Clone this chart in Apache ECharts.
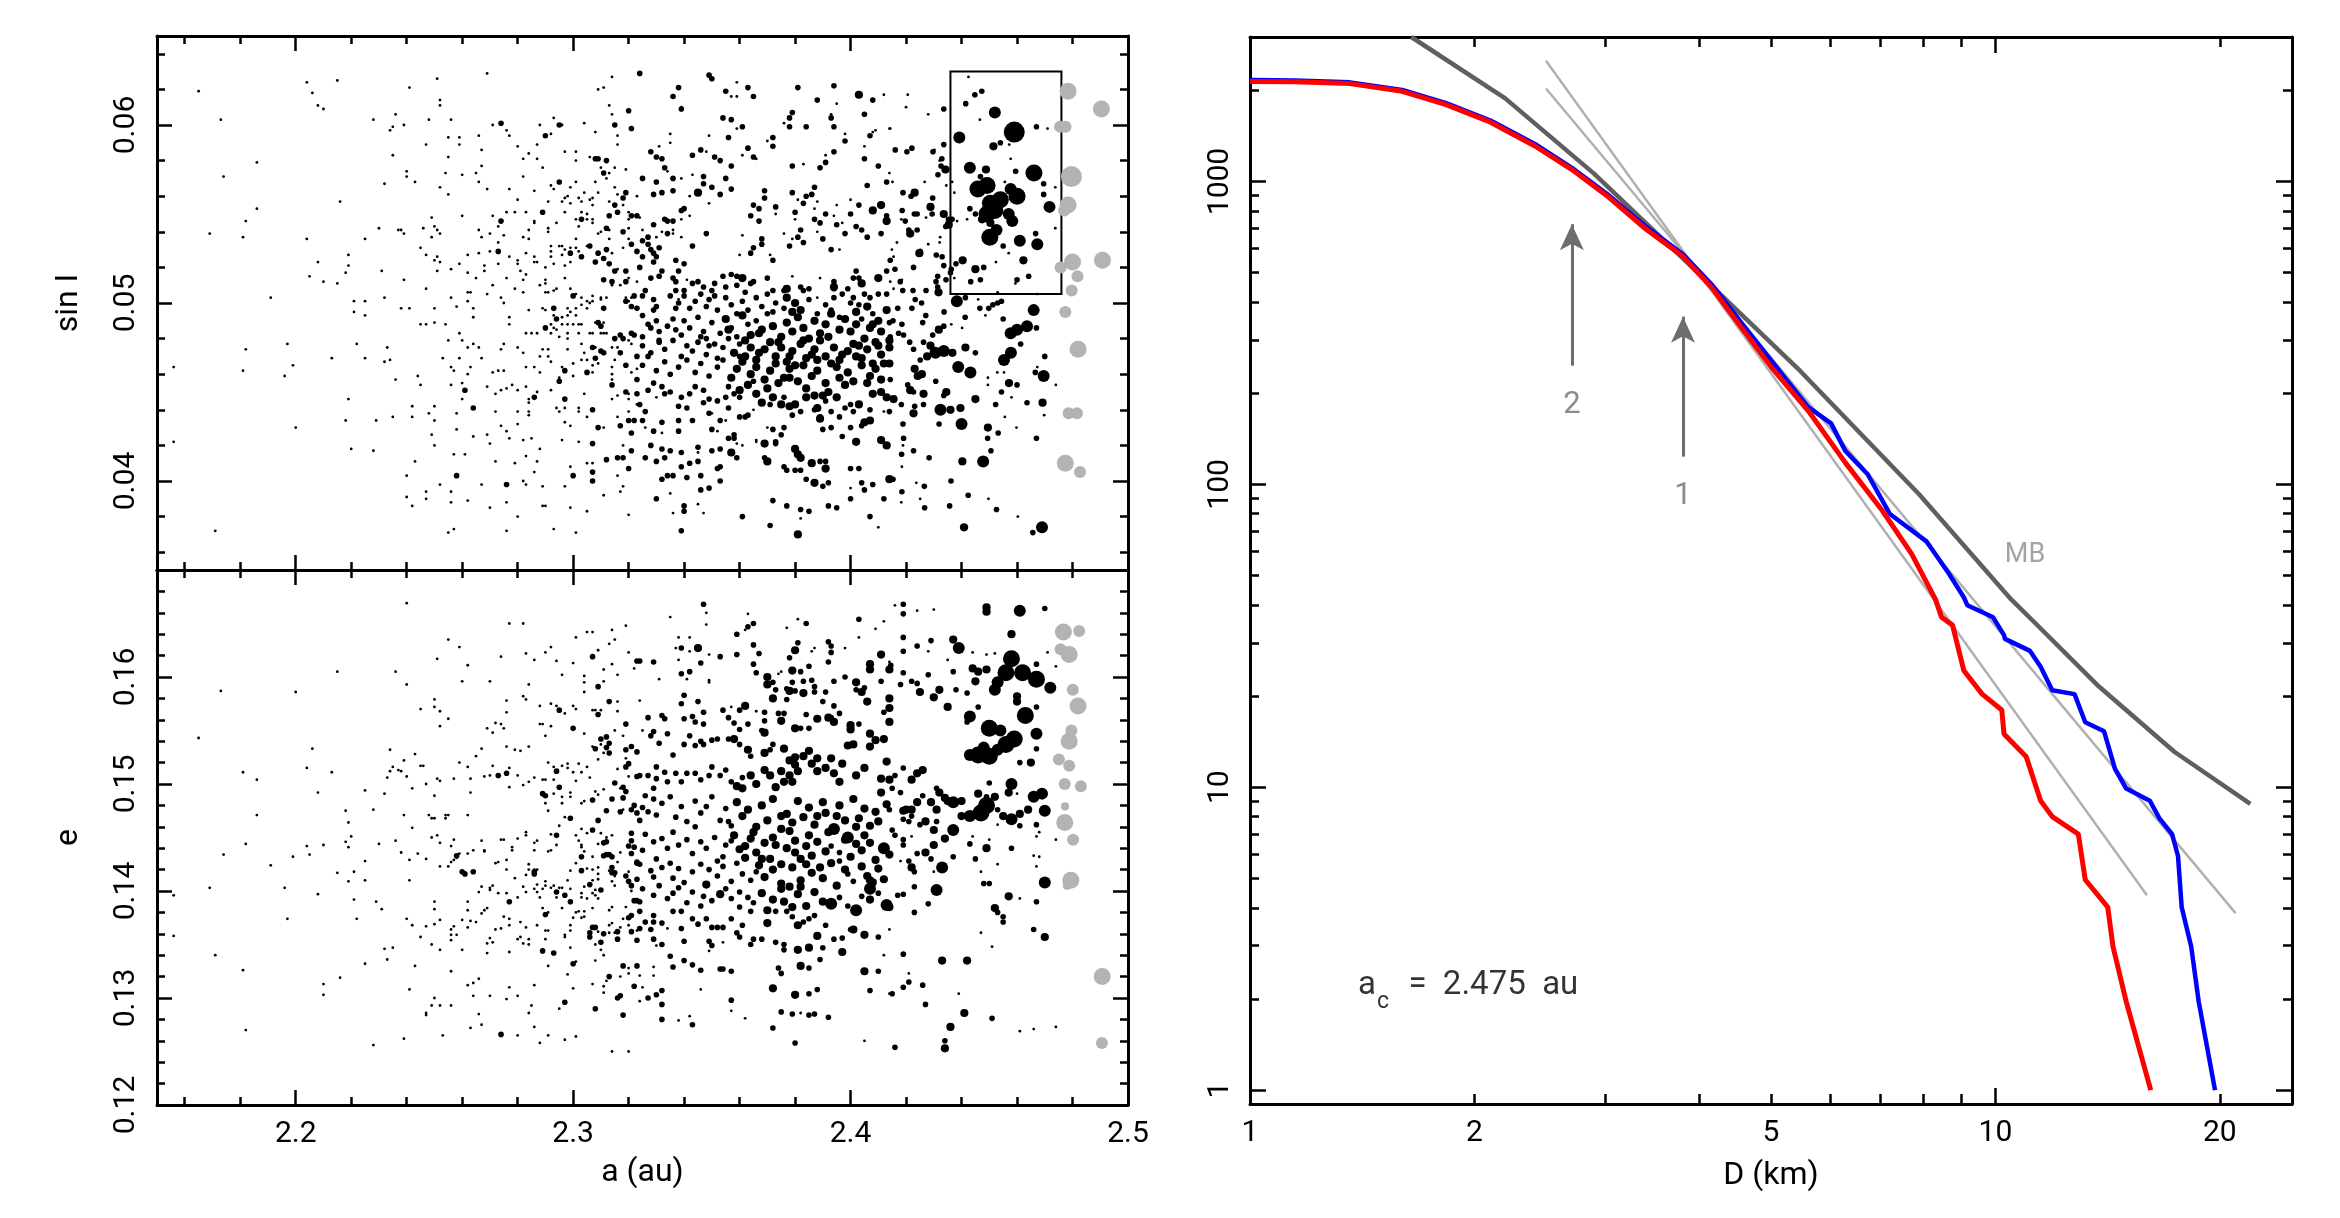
<!DOCTYPE html>
<html>
<head>
<meta charset="utf-8">
<script src="https://cdn.jsdelivr.net/npm/echarts@6/dist/echarts.min.js"></script>
<style>
html, body { margin: 0; background: #fff; }
#chart { width: 2340px; height: 1218px; }
</style>
</head>
<body>
<div id="chart"></div>
<script>
// ---- tick values ----
const aMajor = [2.2, 2.3, 2.4, 2.5]
const aMinor = [2.16, 2.18, 2.22, 2.24, 2.26, 2.28, 2.32, 2.34, 2.36, 2.38, 2.42, 2.44, 2.46, 2.48]
const sinMajor = [0.04, 0.05, 0.06]
const sinMinor = [0.036, 0.038, 0.042, 0.044, 0.046, 0.048, 0.052, 0.054, 0.056, 0.058, 0.062, 0.064]
const eMajor = [0.13, 0.14, 0.15, 0.16]
const eLabels = [0.12, 0.13, 0.14, 0.15, 0.16]
const eMinor = [0.122, 0.124, 0.126, 0.128, 0.132, 0.134, 0.136, 0.138, 0.142, 0.144, 0.146, 0.148,
  0.152, 0.154, 0.156, 0.158, 0.162, 0.164, 0.166, 0.168]
const dMajor = [1, 10]
const dMinor = [2, 3, 4, 5, 6, 7, 8, 9, 20]
const dLabels = [1, 2, 5, 10, 20]
const nMajor = [1, 10, 100, 1000]
const nMinor = [2, 3, 4, 5, 6, 7, 8, 9, 20, 30, 40, 50, 60, 70, 80, 90, 200, 300, 400, 500, 600, 700, 800, 900, 2000, 3000]

// ---- scatter points: [a (1e-3 au), sin I (1e-4), size bin] ----
const sinWest = [[2165,619,1],[2204,624,1],[2215,625,1],[2206,618,1],[2208,611,1],[2210,609,1],[2173,603,1],[2228,603,1],[2236,606,1],[2235,599,1],[2234,597,1],[2235,583,1],[2186,579,1],[2174,571,1],[2232,567,1],[2216,557,1],[2186,553,1],[2182,546,1],[2230,542,1],[2169,539,1],[2181,537,1],[2204,536,1],[2225,536,1],[2238,541,1],[2219,527,1],[2208,523,1],[2219,521,1],[2218,517,1],[2231,518,1],[2205,515,1],[2210,512,1],[2215,511,1],[2191,503,1],[2221,501,1],[2225,501,1],[2232,503,1],[2221,495,1],[2225,493,1],[2197,477,1],[2222,477,1],[2233,475,1],[2182,474,1],[2213,469,1],[2225,469,1],[2232,467,1],[2234,468,1],[2156,464,1],[2181,462,1],[2199,465,1],[2196,459,1],[2236,457,1],[2219,446,1],[2218,434,1],[2229,434,1],[2235,436,1],[2200,430,1],[2156,422,1],[2220,418,1],[2228,417,1],[2171,372,1]]

const sinMid = [[2269,629,1],[2324,629,1],[2251,626,1],[2314,627,1],[2241,621,1],[2311,621,1],[2309,620,1],[2252,614,1],[2252,611,1],[2313,611,1],[2320,608,2],[2314,606,1],[2293,604,1],[2248,603,1],[2256,603,1],[2274,601,2],[2239,600,1],[2271,600,1],[2288,600,1],[2295,600,2],[2296,600,1],[2304,601,1],[2315,600,2],[2321,598,2],[2276,597,1],[2308,596,1],[2277,594,1],[2290,594,2],[2292,595,1],[2266,594,1],[2255,593,1],[2259,593,1],[2316,594,1],[2247,589,1],[2259,589,1],[2280,588,1],[2287,589,1],[2316,589,1],[2267,586,1],[2297,585,1],[2301,585,1],[2284,584,1],[2255,582,1],[2282,581,1],[2287,581,1],[2301,580,1],[2306,582,1],[2308,581,2],[2309,581,2],[2312,580,2],[2267,577,1],[2289,576,1],[2310,576,1],[2315,576,1],[2319,575,1],[2311,573,2],[2313,573,1],[2240,574,1],[2240,571,1],[2254,573,1],[2260,572,1],[2265,573,1],[2282,571,1],[2312,570,1],[2243,568,1],[2266,568,1],[2295,568,2],[2301,568,1],[2252,565,1],[2269,564,1],[2277,564,1],[2286,563,1],[2292,566,1],[2293,564,1],[2299,565,1],[2308,568,1],[2255,561,1],[2298,560,1],[2304,562,1],[2309,562,1],[2315,565,1],[2316,561,1],[2319,562,2],[2297,559,1],[2302,559,1],[2307,559,1],[2306,558,1],[2318,559,2],[2323,560,1],[2280,558,1],[2291,557,1],[2296,557,1],[2299,556,1],[2303,557,1],[2307,555,1],[2313,557,1],[2315,555,2],[2318,555,1],[2316,551,2],[2320,551,1],[2321,549,2],[2323,549,2],[2276,551,1],[2279,551,1],[2283,551,1],[2289,551,2],[2297,551,1],[2303,551,1],[2305,550,1],[2313,549,2],[2260,549,1],[2271,549,1],[2303,547,2],[2305,547,1],[2307,545,1],[2307,547,1],[2274,546,2],[2286,546,1],[2286,545,1],[2294,545,1],[2301,547,1],[2320,547,1],[2249,548,1],[2250,543,1],[2273,543,1],[2291,542,1],[2291,540,1],[2302,543,1],[2312,542,2],[2320,542,1],[2237,541,1],[2239,539,1],[2246,542,1],[2251,541,1],[2252,539,1],[2266,541,1],[2270,539,1],[2284,541,1],[2313,541,1],[2309,539,1],[2310,540,1],[2318,540,2],[2320,536,1],[2249,537,1],[2267,537,1],[2282,537,1],[2284,536,1],[2313,536,1],[2275,538,1],[2306,532,2],[2305,532,1],[2295,532,1],[2296,532,1],[2299,531,1],[2301,531,1],[2301,536,1],[2292,532,1],[2321,533,2],[2323,529,2],[2318,531,1],[2273,534,1],[2245,531,1],[2299,528,2],[2303,526,2],[2309,528,2],[2312,530,2],[2314,528,1],[2302,529,1],[2292,529,1],[2297,530,1],[2292,526,1],[2296,527,1],[2311,525,2],[2273,529,2],[2270,529,1],[2266,528,1],[2262,527,1],[2247,527,1],[2251,526,1],[2250,524,1],[2252,523,1],[2277,526,1],[2280,524,1],[2286,526,1],[2283,528,1],[2308,523,2],[2313,522,2],[2315,518,2],[2316,519,1],[2319,518,2],[2299,523,1],[2286,523,1],[2287,523,1],[2273,522,1],[2259,522,1],[2268,521,1],[2280,522,1],[2290,520,1],[2293,522,1],[2297,521,1],[2281,518,1],[2276,514,1],[2256,519,1],[2251,518,1],[2262,517,1],[2268,518,1],[2239,513,1],[2247,508,1],[2265,514,1],[2282,513,1],[2283,516,1],[2297,514,1],[2311,513,2],[2314,512,2],[2314,510,1],[2317,510,1],[2319,512,2],[2320,514,1],[2323,512,1],[2290,513,1],[2290,511,1],[2288,510,1],[2291,506,1],[2293,507,1],[2294,508,1],[2299,508,1],[2269,505,1],[2271,510,1],[2274,503,1],[2275,500,1],[2279,508,1],[2256,503,1],[2262,506,1],[2263,506,1],[2262,501,1],[2282,506,1],[2290,506,1],[2300,504,2],[2301,505,1],[2303,503,1],[2305,501,1],[2307,504,1],[2307,501,1],[2310,502,1],[2310,503,1],[2312,503,1],[2319,503,1],[2320,501,1],[2321,503,1],[2322,504,2],[2319,501,2],[2321,498,2],[2323,497,2],[2311,497,2],[2306,500,1],[2301,497,1],[2303,499,1],[2298,497,1],[2299,495,1],[2293,497,2],[2289,497,1],[2284,496,1],[2250,497,1],[2238,497,1],[2241,497,1],[2258,498,1],[2264,497,1],[2264,492,1],[2277,492,1],[2277,488,1],[2290,496,1],[2294,491,2],[2293,493,1],[2296,492,1],[2298,493,1],[2301,493,1],[2305,497,1],[2309,489,2],[2310,487,2],[2308,489,1],[2311,489,1],[2302,488,1],[2303,488,1],[2298,488,1],[2300,488,1],[2296,488,1],[2292,488,1],[2293,486,1],[2292,483,1],[2290,486,2],[2285,483,1],[2287,483,1],[2245,488,1],[2247,488,1],[2250,489,1],[2254,488,1],[2259,483,1],[2255,479,1],[2260,479,1],[2262,475,1],[2264,477,1],[2266,475,1],[2275,477,1],[2274,474,1],[2280,475,1],[2282,472,1],[2283,483,1],[2289,474,1],[2291,474,1],[2288,470,1],[2291,470,1],[2292,467,1],[2294,485,1],[2295,481,1],[2298,483,1],[2298,480,1],[2302,483,1],[2306,483,1],[2307,483,1],[2310,483,1],[2311,483,1],[2312,483,1],[2315,480,2],[2317,482,2],[2318,480,2],[2320,479,1],[2321,483,2],[2322,482,2],[2321,477,1],[2303,477,1],[2304,472,1],[2307,475,2],[2308,475,1],[2310,473,2],[2311,472,2],[2314,475,1],[2316,475,1],[2317,472,2],[2298,474,1],[2308,469,2],[2305,468,1],[2303,468,1],[2307,465,1],[2305,461,2],[2307,461,1],[2309,466,1],[2314,464,1],[2315,468,1],[2319,465,2],[2323,470,2],[2323,463,1],[2323,457,2],[2321,461,1],[2314,460,1],[2314,457,1],[2297,462,2],[2296,464,1],[2300,466,1],[2300,459,1],[2295,458,1],[2295,456,2],[2288,461,1],[2286,464,1],[2283,464,1],[2271,461,1],[2273,462,1],[2275,462,1],[2263,464,1],[2253,469,1],[2259,469,1],[2256,464,1],[2257,462,1],[2262,460,1],[2267,469,1],[2244,459,1],[2245,454,1],[2256,454,1],[2260,455,1],[2261,451,2],[2269,453,1],[2272,449,1],[2274,451,1],[2276,452,1],[2278,454,1],[2280,451,1],[2283,453,1],[2287,450,1],[2286,447,2],[2284,446,1],[2284,444,1],[2292,451,1],[2297,446,2],[2304,449,1],[2314,454,2],[2314,446,1],[2316,448,1],[2319,450,2],[2320,449,1],[2323,449,2],[2320,446,1],[2323,443,1],[2260,446,1],[2264,441,2],[2258,438,1],[2242,442,1],[2242,436,1],[2248,438,1],[2250,442,1],[2250,434,1],[2272,439,1],[2280,439,1],[2284,439,1],[2284,437,1],[2294,441,1],[2295,439,1],[2297,441,1],[2302,441,1],[2302,439,1],[2307,440,2],[2305,436,1],[2297,433,1],[2299,431,1],[2309,430,2],[2311,430,1],[2317,431,2],[2316,436,1],[2320,439,1],[2320,434,2],[2322,434,2],[2321,427,2],[2249,426,1],[2250,420,1],[2258,429,1],[2264,425,1],[2269,426,1],[2270,421,1],[2274,431,1],[2276,428,1],[2277,424,1],[2280,432,1],[2282,423,1],[2285,424,1],[2288,418,1],[2296,423,1],[2302,422,1],[2307,421,2],[2318,420,1],[2321,417,2],[2312,412,2],[2316,413,2],[2318,413,2],[2320,407,2],[2243,411,1],[2257,415,1],[2261,415,1],[2272,411,1],[2279,410,1],[2283,414,1],[2287,411,1],[2286,405,1],[2299,408,1],[2305,410,1],[2307,410,1],[2307,405,2],[2300,403,2],[2307,400,2],[2316,403,1],[2240,403,1],[2258,403,2],[2252,398,1],[2267,398,1],[2276,398,2],[2282,400,1],[2283,398,1],[2289,397,1],[2297,397,1],[2318,397,1],[2317,394,1],[2311,392,1],[2247,394,1],[2247,390,1],[2256,394,1],[2240,391,1],[2242,386,1],[2256,388,1],[2262,389,1],[2270,385,1],[2276,388,1],[2289,386,1],[2290,386,1],[2299,385,1],[2305,383,1],[2320,381,1],[2280,380,1],[2255,371,1],[2257,373,1],[2276,372,1],[2293,373,1],[2301,371,1]]

const sinCore = [[2324,629,2],[2338,621,2],[2349,628,2],[2350,626,2],[2336,616,2],[2339,609,2],[2339,610,1],[2355,619,2],[2357,616,1],[2359,616,1],[2359,624,1],[2363,621,2],[2365,616,2],[2381,621,2],[2394,622,2],[2388,614,2],[2395,612,1],[2403,617,3],[2408,614,2],[2412,617,1],[2354,604,2],[2357,603,2],[2359,598,1],[2361,599,2],[2356,593,2],[2378,604,2],[2379,607,2],[2376,601,1],[2378,599,2],[2384,599,2],[2393,604,2],[2393,606,1],[2394,599,2],[2398,595,1],[2398,591,2],[2405,606,2],[2407,594,2],[2408,596,1],[2409,597,1],[2414,598,1],[2335,595,1],[2335,590,1],[2349,594,1],[2331,588,1],[2346,586,2],[2348,585,1],[2363,587,2],[2361,583,1],[2365,582,2],[2366,581,1],[2370,591,1],[2372,588,2],[2372,593,2],[2328,585,2],[2330,582,2],[2332,581,2],[2343,583,2],[2351,582,2],[2353,580,2],[2357,577,2],[2391,583,1],[2394,585,2],[2391,579,2],[2389,576,2],[2379,577,2],[2383,578,1],[2405,588,1],[2405,581,2],[2410,577,2],[2414,573,1],
[2325,570,2],[2330,568,2],[2333,576,2],[2336,570,2],[2334,574,1],[2339,570,1],[2336,563,2],[2329,561,2],[2332,562,2],[2343,572,1],[2347,571,2],[2347,567,2],[2349,556,1],[2350,565,2],[2353,561,2],[2355,570,2],[2357,564,2],[2345,562,3],[2342,560,1],[2340,553,2],[2339,552,2],[2342,549,1],[2333,547,2],[2334,546,2],[2336,546,2],[2336,541,1],[2339,547,1],[2329,544,2],[2324,548,1],[2348,539,2],[2343,532,2],[2369,563,2],[2369,559,2],[2373,554,2],[2373,550,1],[2365,555,2],[2367,553,2],[2364,549,2],[2367,546,2],[2379,562,2],[2381,558,1],[2384,560,2],[2387,565,2],[2386,561,2],[2383,556,2],[2380,551,2],[2380,547,1],[2387,553,1],[2388,557,1],[2391,550,2],[2395,555,1],[2394,549,1],[2389,545,2],[2387,547,2],[2395,544,2],[2400,550,2],[2397,545,1],[2403,555,2],[2400,558,1],[2406,566,2],[2413,568,2],[2408,552,3],[2411,555,3],[2413,546,3],[2413,549,2],[2404,541,2],[2406,537,2],[2411,539,2],[2402,543,2],[2382,541,2],[2379,536,1],[2376,539,1],[2388,540,1],[2390,536,2],[2393,530,2],[2398,539,2],[2396,530,1],[2383,534,2],[2381,537,2],[2378,532,2],[2368,536,2],[2368,533,2],[2361,538,1],[2364,528,2],[2365,531,2],[2360,527,1],[2371,527,1],[2372,524,2],
[2325,541,1],[2327,537,2],[2325,535,2],[2330,537,1],[2332,540,1],[2334,539,2],[2336,539,1],[2339,537,1],[2327,533,2],[2328,530,2],[2329,528,2],[2331,531,2],[2330,526,2],[2329,523,2],[2325,526,2],[2324,520,2],[2337,524,2],[2340,522,2],[2338,518,2],[2332,518,2],[2331,515,2],[2328,514,2],[2336,514,2],[2337,512,2],[2341,513,1],[2343,511,2],[2345,512,2],[2347,509,2],[2340,507,2],[2337,507,2],[2357,516,2],[2359,515,2],[2361,514,3],[2354,515,2],[2351,511,2],[2355,509,2],[2350,507,2],[2351,504,2],[2359,510,2],[2362,506,2],[2364,511,2],[2365,512,2],[2370,514,2],[2372,507,2],[2376,507,2],[2377,508,3],[2379,515,1],[2382,509,2],[2383,507,2],[2385,508,2],[2389,514,1],[2394,512,2],[2394,508,2],[2388,503,1],[2397,505,2],[2399,508,2],[2401,514,2],[2402,518,2],[2403,514,2],[2404,511,3],[2405,505,2],[2401,503,2],[2403,499,2],[2407,503,2],[2410,514,3],[2410,505,2],[2413,518,2],[2413,505,2],[2394,509,3],[2326,507,2],[2325,504,2],[2329,502,2],[2330,498,2],[2329,496,2],[2335,504,2],[2337,497,2],[2338,500,2],[2338,502,1],[2340,504,2],[2342,497,2],[2344,501,2],
[2346,505,2],[2348,498,2],[2349,502,2],[2352,496,2],[2355,503,2],[2357,499,2],[2359,494,2],[2361,501,2],[2363,496,2],[2366,503,2],[2368,498,2],[2370,505,2],[2372,495,2],[2373,500,2],[2376,497,2],[2377,503,3],[2379,495,3],[2380,500,3],[2382,496,3],[2385,502,2],[2388,494,2],[2391,499,2],[2393,496,2],[2394,503,2],[2396,492,2],[2400,500,2],[2402,495,3],[2404,491,2],[2406,498,3],[2408,494,2],[2410,490,3],[2413,496,3],[2414,489,2],
[2325,493,2],[2327,488,2],[2330,490,2],[2331,484,2],[2325,481,2],[2328,486,2],[2331,479,2],[2334,487,2],[2336,491,2],[2337,485,2],[2339,482,2],[2340,490,2],[2342,486,2],[2345,492,2],[2347,484,2],[2348,480,2],[2350,489,2],[2353,483,2],[2355,491,3],[2357,486,2],[2359,481,2],[2361,493,3],[2363,488,2],[2364,482,3],[2366,490,2],[2368,485,3],[2370,494,2],[2372,487,3],[2375,481,3],[2377,489,3],[2379,484,3],[2381,492,3],[2383,486,3],[2385,480,3],[2387,490,3],[2389,483,3],[2391,488,3],[2393,494,3],[2396,485,3],[2398,491,3],[2400,484,3],[2402,488,3],[2405,480,3],[2407,486,3],[2409,478,3],[2411,484,3],[2414,479,3],
[2325,476,2],[2328,472,2],[2331,478,2],[2333,474,2],[2336,479,2],[2339,470,2],[2341,476,2],[2343,473,2],[2345,478,2],[2348,471,2],[2349,476,2],[2352,469,2],[2354,475,2],[2356,480,2],[2358,472,3],[2360,477,2],[2362,470,3],[2364,475,3],[2366,468,3],[2369,474,3],[2371,478,3],[2373,470,3],[2375,475,3],[2377,467,3],[2379,473,3],[2382,477,3],[2384,469,3],[2387,474,3],[2389,479,3],[2391,470,3],[2394,475,3],[2396,468,3],[2399,473,3],[2401,477,3],[2404,469,3],[2406,474,3],[2408,466,3],[2411,471,3],[2414,475,3],
[2325,465,2],[2327,470,2],[2330,462,2],[2333,467,2],[2335,460,2],[2338,464,2],[2341,468,2],[2344,461,2],[2346,466,2],[2349,459,2],[2352,464,2],[2354,468,2],[2357,458,3],[2359,463,3],[2361,467,3],[2364,460,3],[2366,464,3],[2369,457,3],[2371,462,3],[2373,466,3],[2376,458,3],[2378,463,3],[2381,456,3],[2383,465,3],[2386,459,3],[2388,462,3],[2391,455,3],[2393,466,3],[2396,458,3],[2399,461,3],[2401,456,3],[2404,465,3],[2407,459,3],[2409,463,3],[2411,457,3],[2414,466,3],
[2346,481,2],[2351,477,2],[2356,485,3],[2362,479,3],[2367,483,3],[2374,478,3],[2378,470,3],[2383,479,3],[2388,468,3],[2392,481,3],[2397,471,3],[2403,476,3],[2408,488,3],[2412,466,3],[2360,470,2],[2367,472,3],[2380,465,3],[2386,471,3],[2395,464,3],[2402,470,3],[2410,476,3],[2374,455,3],[2384,452,3],[2392,450,3],[2370,452,3],[2398,454,3],[2406,455,3],[2365,456,2],[2378,458,3],
[2324,443,2],[2327,451,2],[2329,455,2],[2332,453,2],[2333,449,2],[2335,450,2],[2339,447,2],[2341,441,2],[2338,442,2],[2342,449,2],[2344,453,2],[2347,451,2],[2347,444,2],[2349,446,2],[2350,438,1],[2352,445,2],[2355,447,2],[2356,441,2],[2358,449,2],[2360,447,2],[2360,436,2],[2362,436,2],[2363,437,2],[2365,440,1],[2356,453,2],[2360,451,3],[2363,454,3],[2366,449,3],[2368,444,3],[2371,443,2],[2372,447,3],[2375,443,3],[2376,447,2],[2378,442,3],[2380,443,3],[2382,439,2],[2384,447,3],[2387,448,3],[2388,441,3],[2390,448,3],[2391,445,2],[2393,439,2],[2395,447,3],[2398,441,2],[2400,443,2],[2401,439,2],[2403,443,3],[2405,433,3],[2407,434,3],[2408,449,3],[2411,450,3],[2413,447,3],[2407,440,2],[2412,439,1],[2414,439,2],[2396,436,2],[2393,430,2],[2389,436,2],[2390,429,2],[2387,440,2],[2389,435,3],[2379,437,2],[2376,430,2],[2375,426,2],[2372,429,2],[2373,422,2],[2370,430,1],[2366,423,1],[2404,431,2],[2402,422,3],[2397,425,2],[2400,430,2],[2411,423,3],[2413,420,3],[2326,439,2],[2330,447,1],[2325,434,2],[2326,430,1],[2329,428,2],[2332,427,1],[2332,433,2],[2338,434,2],[2338,428,2],[2343,434,2],[2349,438,2],[2353,434,2],[2355,434,1],[2350,429,2],[2352,428,1],[2356,424,2],[2358,426,2],[2359,421,1],[2361,420,1],[2366,422,1],
[2328,420,2],[2326,413,2],[2332,418,2],[2335,417,2],[2333,413,2],[2339,416,2],[2345,419,2],[2345,416,1],[2342,410,2],[2339,408,2],[2345,411,2],[2350,417,2],[2353,418,2],[2353,408,2],[2352,407,2],[2357,416,3],[2358,424,2],[2359,413,2],[2369,421,3],[2369,413,2],[2370,411,3],[2373,421,2],[2380,418,3],[2381,415,3],[2382,413,3],[2386,410,3],[2389,411,2],[2391,411,2],[2391,407,3],[2376,408,2],[2377,406,2],[2380,406,2],[2382,406,2],[2384,401,2],[2387,399,3],[2390,397,2],[2392,399,2],[2400,407,2],[2403,407,2],[2404,399,2],[2405,395,2],[2400,396,1],[2400,390,2],[2408,398,2],[2412,390,2],[2414,401,3],[2330,411,2],[2332,401,2],[2334,403,2],[2336,403,2],[2341,402,2],[2346,403,2],[2346,395,2],[2349,396,2],[2353,400,2],[2330,390,2],[2335,393,1],[2340,386,2],[2340,383,2],[2336,382,1],[2345,387,1],[2347,382,1],[2361,380,2],[2372,389,2],[2371,375,2],[2377,386,2],[2382,384,2],[2385,383,2],[2382,379,1],[2392,386,2],[2395,385,2],[2381,370,3],[2339,372,2],[2407,380,2],[2410,374,1]]

const sinEast = [[2442.5,627,1],[2444.8,617,2],[2447.3,619,2],[2452,607,4],[2459,596,6],[2467,599,2],[2471,598,1],[2439.2,593,4],[2446.6,603,1],[2441.5,612,2],[2433.6,609,2],[2428,606,1],[2420.6,617,1],[2420,610,1],[2451.5,588,3],[2454,590,2],[2457.2,589,1],[2443,576,4],[2448.8,575,3],[2446.8,571,2],[2445.9,564,5],[2449.2,566,5],[2459.5,574,2],[2466.1,573,5],[2469.6,567,2],[2473.8,565,1],[2455.6,568,1],[2457.7,581,1],[2450.4,556,5],[2454,558,5],[2460,560,5],[2457.7,564,4],[2449.2,550,5],[2452,552,5],[2457,550,4],[2458.3,546,4],[2447.4,547,3],[2450.4,545,3],[2443,553,2],[2445,550,2],[2471.7,554,4],[2469.6,561,2],[2473.8,542,1],[2450.2,537,5],[2452.6,541,4],[2461,535,4],[2467.3,533,4],[2466.7,539,2],[2455,532,2],[2457,528,1],[2452.4,523,1],[2462.3,524,3],[2440.4,524,3],[2438,522,2],[2436.3,519,2],[2445,519,3],[2448,520,2],[2443.3,512,2],[2446.8,513,2],[2437.4,514,1],[2464.2,515,2],[2460,513,2],[2459.4,511,1],[2453,506,1],[2467.3,505,1],[2433.6,521,2],[2433,526,2],[2436,517,2],[2438.3,501,4],[2441.4,503,2],[2446,502,1],[2446.6,497,2],[2448.6,493,1],[2449.8,497,2],[2451.3,499,2],[2453,500,2],[2454.4,501,2],[2455,491,2],[2466,496,4],[2463.6,487,4],[2460,485,4],[2457.7,483,4],[2467,486,2],[2461.3,477,2],[2457.8,472,4],[2455.3,468,4],[2470,470,2],[2467.3,464,1],[2466.6,461,2],[2469.6,459,4],[2474,454,1],[2452.9,461,1],[2455.3,461,1],[2457.1,455,3],[2460,454,2],[2449.5,458,1],[2449.5,454,1],[2454.4,450,2],[2458,447,1],[2452.3,443,2],[2463.6,444,2],[2469.2,444,3],[2469.8,437,1],[2455.6,436,1],[2459.8,430,1],[2467,424,2],[2453.2,427,2],[2449.5,430,3],[2449.4,424,2],[2450.6,417,2],[2447.8,411,4],[2440.3,411,3],[2436.2,400,2],[2442.4,392,2],[2449.7,390,1],[2452.6,384,2],[2460.3,380,1],[2469,374,4],[2465.7,371,2],[2440.9,374,3],[2435.7,386,2],[2440,432,4],[2445,446,3],[2438.8,464,4],[2443.2,461,4],[2441.4,475,3],[2445,472,2],[2439.6,441,3],[2432.4,440,4],[2436,440,3],[2431.9,432,2],[2428.3,413,2],[2430.7,456,2],[2433.6,448,2],[2434.5,450,3],[2436.7,472,3],[2433.6,473,4],[2430.6,472,4],[2428.8,476,3],[2426.3,478,2],[2427.6,470,3],[2425.1,468,2],[2423.1,463,3],[2425.7,460,3],[2426.3,449,3],[2422.7,450,2],[2420.6,454,2],[2424.2,459,3],[2421.5,451,3],[2423.1,442,2],[2426.3,443,2],[2415.5,446,3],[2414.3,457,2],[2418.3,443,2],[2418.9,432,2],[2422.7,438,3],[2419.1,424,2],[2418.9,420,1],[2418.4,415,2],[2418.5,408,1],[2422.7,417,2],[2418.5,394,2],[2418.3,388,1],[2415.3,401,2],[2423.7,399,1],[2426.6,397,2],[2425.1,390,1],[2426.7,385,2],[2421.3,478,2],[2422.7,474,2],[2419.1,482,2],[2414.3,481,2],[2417.3,483,2],[2418.5,488,2],[2415.3,490,2],[2417,497,2],[2423.3,502,2],[2422.1,497,2],[2427.1,493,2],[2426,489,2],[2418.8,507,2],[2422.5,507,2],[2417.9,512,2],[2422.7,520,2],[2425.1,529,2],[2416,519,2],[2414.3,524,2],[2427.2,507,2],[2431.4,509,2],[2430.8,512,2],[2431.7,506,3],[2431.4,515,2],[2434.4,513,2],[2433.7,495,2],[2433.6,487,2],[2431.8,485,3],[2429.6,482,2],[2436.3,488,1],[2440.2,486,1],[2441.3,492,2],[2425.6,500,2],[2415.5,508,1],[2418.5,513,1],[2416.7,534,1],[2414.9,530,1],[2418.3,547,1],[2418.6,552,2],[2419.7,546,2],[2421,541,2],[2421.8,560,2],[2423.1,562,3],[2418.9,562,2],[2423,550,2],[2424,550,2],[2421.5,539,3],[2424,541,2],[2424.8,528,3],[2422.5,520,1],[2427.2,548,1],[2428.8,554,3],[2429.6,559,2],[2429.4,550,2],[2432.3,537,1],[2432.1,534,1],[2430.9,527,2],[2433.6,550,3],[2435.4,544,3],[2434.3,543,2],[2436.6,547,2],[2438.4,546,1],[2442,547,1],[2435.3,547,2],[2431.5,572,2],[2432.6,577,2],[2434.2,575,3],[2432.9,581,2],[2429.7,585,2],[2433.6,589,2],[2430.2,586,1],[2432.1,580,1],[2422.1,587,2],[2420.3,585,2],[2416.1,586,2],[2414.3,598,1],[2426.7,568,1],[2415.1,568,1],[2418.5,562,1],[2436.6,568,1],[2437.4,562,1],[2434.5,566,1],[2415.5,526,1],[2414.3,512,1],[2428,533,1]]

const sinGray = [[2478.4,619,5],[2490.4,609,5],[2475.5,599,4],[2477.5,599,4],[2479.6,571,6],[2478.4,555,5],[2477,552,4],[2475.7,520,4],[2480,523,5],[2481.8,515,4],[2490.8,524,5],[2479.7,507,4],[2477.4,495,4],[2482,474,5],[2478.6,438,4],[2481.6,438,4],[2477.4,410,5],[2482.7,405,4]]

// ---- scatter points: [a (1e-3 au), e (1e-4), size bin] ----
const eWest = [[2215,1605,1],[2236,1605,1],[2173,1587,1],[2200,1586,1],[2165,1543,1],[2206,1533,1],[2234,1532,1],[2204,1515,1],[2213,1511,1],[2235,1516,1],[2234,1512,1],[2238,1512,1],[2233,1506,1],[2181,1511,1],[2186,1504,1],[2208,1492,1],[2225,1494,1],[2232,1491,1],[2218,1475,1],[2228,1476,1],[2186,1471,1],[2219,1464,1],[2220,1451,1],[2182,1444,1],[2204,1442,1],[2210,1443,1],[2218,1446,1],[2230,1444,1],[2236,1447,1],[2219,1441,1],[2174,1434,1],[2205,1434,1],[2199,1432,1],[2225,1428,1],[2191,1424,1],[2215,1417,1],[2221,1418,1],[2219,1409,1],[2225,1410,1],[2169,1403,1],[2196,1403,1],[2208,1397,1],[2156,1396,1],[2221,1392,1],[2229,1390,1],[2231,1383,1],[2197,1374,1],[2222,1374,1],[2156,1358,1],[2171,1340,1],[2232,1346,1],[2235,1347,1],[2233,1336,1],[2181,1326,1],[2225,1332,1],[2216,1319,1],[2210,1313,1],[2210,1303,1],[2182,1270,1],[2228,1256,1]]

const eMid = [[2240,1669,1],[2277,1650,1],[2282,1650,1],[2255,1635,1],[2259,1628,1],[2301,1637,1],[2305,1642,1],[2307,1642,1],[2314,1644,1],[2319,1648,1],[2313,1631,1],[2315,1635,1],[2292,1628,1],[2290,1623,1],[2283,1622,1],[2307,1619,2],[2309,1625,1],[2251,1617,1],[2262,1611,1],[2274,1619,1],[2286,1616,1],[2294,1615,1],[2300,1613,1],[2320,1623,1],[2323,1615,2],[2311,1607,1],[2314,1612,1],[2322,1608,1],[2260,1596,1],[2270,1596,1],[2296,1602,1],[2240,1593,1],[2284,1593,1],[2304,1601,1],[2304,1595,1],[2309,1591,2],[2311,1596,1],[2316,1602,1],[2304,1586,1],[2250,1579,1],[2250,1572,1],[2252,1568,1],[2255,1561,1],[2245,1570,1],[2276,1578,1],[2276,1567,1],[2282,1582,1],[2283,1579,1],[2288,1573,1],[2292,1575,1],[2295,1569,2],[2294,1573,1],[2297,1566,1],[2300,1573,1],[2301,1570,1],[2307,1569,1],[2308,1569,1],[2309,1565,2],[2310,1569,1],[2313,1577,2],[2316,1577,1],[2316,1568,1],[2252,1554,1],[2269,1552,1],[2271,1548,1],[2272,1557,1],[2274,1556,1],[2275,1552,1],[2288,1556,1],[2289,1556,1],[2292,1554,1],[2290,1545,1],[2300,1552,2],[2304,1547,1],[2310,1542,2],[2312,1544,2],[2315,1550,1],[2319,1556,2],[2318,1545,1],[2284,1535,1],[2276,1535,1],[2279,1532,1],[2281,1531,1],[2265,1526,1],[2267,1533,1],[2239,1522,1],[2243,1528,1],[2237,1513,1],[2240,1507,1],[2242,1496,1],[2245,1517,1],[2246,1517,1],[2250,1489,1],[2247,1500,1],[2251,1505,1],[2252,1503,1],[2257,1505,1],[2259,1520,1],[2262,1516,1],[2263,1492,1],[2263,1505,1],[2268,1507,1],[2270,1508,1],[2271,1517,1],[2273,1508,2],[2276,1510,2],[2277,1515,1],[2277,1497,1],[2280,1508,1],[2282,1499,1],[2284,1502,1],[2286,1506,1],[2289,1504,1],[2290,1504,1],[2293,1504,1],[2291,1520,1],[2293,1516,1],[2294,1512,2],[2296,1517,1],[2298,1515,1],[2298,1519,1],[2300,1511,1],[2301,1503,1],[2302,1519,1],[2303,1511,1],[2305,1516,1],[2306,1506,1],[2307,1535,1],[2308,1533,2],[2310,1537,1],[2309,1523,1],[2311,1529,1],[2312,1534,2],[2313,1529,2],[2313,1538,2],[2316,1514,1],[2319,1532,2],[2319,1516,2],[2320,1519,2],[2319,1524,1],[2321,1535,2],[2323,1530,2],[2320,1507,1],[2323,1507,2],[2289,1491,2],[2290,1489,2],[2295,1497,2],[2293,1491,1],[2296,1488,1],[2299,1492,1],[2299,1488,1],[2290,1482,1],[2291,1475,1],[2296,1482,1],[2303,1482,1],[2304,1484,1],[2307,1485,2],[2311,1495,1],[2308,1493,1],[2309,1490,1],[2314,1486,2],[2315,1501,2],[2317,1496,1],[2318,1497,2],[2319,1493,2],[2318,1487,2],[2321,1476,2],[2323,1473,2],[2322,1480,2],[2318,1476,1],[2317,1473,1],[2317,1474,2],[2312,1475,2],[2309,1466,2],[2307,1457,2],[2312,1450,1],[2310,1454,1],[2314,1452,1],[2312,1446,2],[2311,1445,2],[2303,1458,1],[2305,1454,1],[2299,1468,2],[2297,1469,1],[2294,1452,2],[2295,1461,1],[2292,1453,1],[2294,1443,1],[2291,1437,1],[2292,1438,1],[2303,1443,1],[2301,1452,1],[2302,1447,1],[2303,1432,2],[2303,1441,1],[2304,1437,1],[2307,1432,1],[2309,1444,1],[2312,1434,2],[2313,1434,2],[2311,1433,2],[2314,1432,2],[2316,1427,1],[2317,1436,1],[2320,1442,2],[2321,1435,2],[2322,1441,2],[2323,1427,2],[2321,1447,2],[2321,1454,2],[2283,1455,1],[2283,1452,1],[2286,1445,1],[2287,1447,1],[2286,1438,1],[2284,1425,1],[2284,1420,1],[2286,1420,1],[2287,1420,1],[2286,1416,2],[2286,1418,2],[2283,1415,1],[2282,1404,1],[2278,1441,1],[2278,1438,1],[2274,1448,1],[2275,1448,1],[2280,1449,1],[2276,1429,1],[2279,1412,1],[2276,1420,1],[2273,1427,1],[2272,1426,1],[2268,1438,1],[2267,1447,1],[2268,1437,1],[2264,1438,1],[2262,1435,1],[2258,1433,2],[2259,1435,1],[2258,1431,1],[2257,1429,1],[2256,1427,1],[2255,1423,1],[2252,1423,1],[2260,1418,2],[2264,1418,2],[2261,1416,2],[2257,1448,1],[2256,1442,1],[2252,1445,1],[2249,1450,1],[2251,1452,1],[2247,1430,1],[2244,1435,1],[2241,1429,1],[2238,1436,1],[2241,1410,1],[2242,1459,1],[2239,1471,1],[2248,1471,1],[2249,1468,1],[2250,1468,1],[2254,1471,1],[2255,1471,1],[2254,1468,1],[2262,1471,1],[2266,1399,1],[2267,1404,1],[2270,1403,1],[2271,1405,1],[2270,1401,1],[2273,1398,1],[2276,1398,1],[2277,1390,2],[2280,1394,1],[2283,1399,1],[2287,1399,1],[2289,1402,1],[2286,1402,1],[2288,1394,1],[2287,1406,1],[2290,1409,1],[2290,1405,1],[2289,1384,1],[2290,1378,2],[2291,1380,1],[2293,1405,1],[2292,1403,1],[2294,1399,2],[2294,1394,1],[2295,1403,1],[2296,1403,1],[2299,1402,1],[2299,1391,1],[2297,1396,2],[2299,1390,2],[2296,1384,1],[2298,1410,1],[2299,1419,1],[2301,1426,1],[2303,1419,2],[2305,1421,1],[2307,1420,1],[2307,1410,1],[2306,1406,2],[2304,1404,1],[2303,1398,1],[2303,1394,1],[2307,1398,1],[2305,1393,1],[2308,1396,1],[2309,1393,1],[2310,1401,2],[2308,1401,1],[2309,1411,1],[2309,1416,1],[2309,1422,1],[2307,1384,1],[2304,1381,1],[2301,1380,1],[2302,1381,1],[2300,1375,1],[2303,1375,1],[2299,1368,1],[2299,1363,1],[2297,1359,1],[2297,1357,1],[2299,1347,1],[2304,1376,1],[2306,1357,2],[2306,1361,2],[2307,1366,2],[2308,1366,2],[2309,1362,1],[2311,1360,2],[2310,1352,2],[2308,1350,1],[2310,1345,1],[2311,1340,1],[2314,1370,1],[2313,1361,1],[2316,1355,2],[2316,1362,2],[2315,1361,1],[2317,1366,1],[2318,1374,1],[2320,1375,2],[2321,1377,2],[2320,1368,1],[2321,1362,2],[2323,1354,2],[2323,1363,1],[2319,1385,1],[2320,1409,2],[2320,1418,1],[2319,1414,2],[2321,1405,2],[2321,1400,1],[2322,1391,2],[2323,1391,2],[2323,1411,2],[2323,1426,2],[2315,1405,1],[2314,1409,1],[2315,1414,1],[2314,1417,2],[2314,1422,2],[2315,1417,2],[2313,1419,1],[2313,1382,1],[2314,1385,1],[2313,1368,1],[2291,1363,1],[2290,1363,1],[2290,1355,1],[2289,1344,2],[2293,1342,2],[2291,1330,1],[2283,1366,1],[2284,1355,1],[2280,1355,1],[2281,1357,1],[2282,1351,1],[2284,1350,1],[2287,1368,1],[2281,1371,1],[2277,1368,1],[2277,1374,1],[2275,1376,1],[2274,1365,1],[2272,1364,1],[2270,1356,1],[2269,1351,1],[2271,1352,1],[2277,1343,1],[2268,1382,1],[2269,1384,1],[2267,1379,1],[2265,1371,1],[2263,1372,1],[2262,1390,1],[2262,1382,1],[2260,1373,1],[2262,1366,1],[2258,1359,1],[2256,1359,1],[2256,1354,1],[2256,1364,1],[2257,1367,1],[2252,1373,1],[2250,1369,1],[2250,1390,1],[2250,1383,1],[2249,1350,1],[2252,1345,1],[2247,1367,1],[2245,1357,1],[2240,1374,1],[2242,1368,1],[2260,1345,1],[2269,1342,1],[2256,1325,1],[2243,1330,1],[2241,1308,1],[2262,1312,1],[2264,1314,1],[2266,1318,1],[2264,1302,1],[2270,1302,1],[2276,1299,1],[2277,1310,1],[2280,1302,1],[2286,1312,1],[2285,1293,1],[2284,1286,1],[2286,1273,1],[2280,1265,1],[2274,1266,2],[2263,1272,1],[2266,1285,1],[2267,1275,1],[2253,1265,1],[2256,1293,1],[2252,1293,1],[2250,1300,1],[2249,1293,1],[2247,1286,1],[2247,1284,1],[2239,1262,1],[2288,1258,1],[2291,1265,1],[2297,1261,1],[2301,1264,1],[2297,1296,2],[2295,1290,1],[2300,1309,1],[2300,1332,2],[2301,1334,1],[2298,1322,1],[2307,1313,1],[2308,1335,1],[2308,1290,2],[2311,1305,1],[2311,1311,1],[2312,1316,1],[2313,1320,2],[2317,1320,1],[2318,1330,2],[2320,1328,1],[2320,1323,1],[2316,1300,2],[2317,1302,2],[2318,1284,2],[2322,1311,2],[2323,1330,2],[2324,1321,1],[2314,1250,1],[2320,1250,1]]

const eCore = [[2347,1668,2],[2348,1660,1],[2348,1649,1],[2335,1656,1],[2363,1659,1],[2365,1650,2],[2363,1647,2],[2362,1644,1],[2359,1640,2],[2377,1646,1],[2381,1654,1],[2384,1650,2],[2403,1654,2],[2403,1637,1],[2409,1645,1],[2412,1652,1],[2337,1627,1],[2339,1627,2],[2342,1637,1],[2338,1637,1],[2345,1627,3],[2342,1624,1],[2349,1621,1],[2353,1619,2],[2359,1621,2],[2365,1630,2],[2367,1622,2],[2365,1612,2],[2381,1632,2],[2380,1625,3],[2378,1618,2],[2387,1627,1],[2386,1624,1],[2392,1633,2],[2393,1629,2],[2393,1623,2],[2392,1614,2],[2398,1627,1],[2407,1612,3],[2407,1607,3],[2411,1621,3],[2414,1614,1],[2329,1614,2],[2324,1615,2],[2339,1603,2],[2342,1605,2],[2341,1598,1],[2346,1613,2],[2338,1616,1],[2331,1598,1],[2349,1597,1],[2349,1595,1],[2366,1604,2],[2370,1600,3],[2370,1593,3],[2372,1595,2],[2374,1603,1],[2375,1605,1],[2379,1606,3],[2382,1605,2],[2385,1610,2],[2379,1595,2],[2383,1596,2],[2386,1597,2],[2387,1591,2],[2372,1580,3],[2373,1588,2],[2377,1589,2],[2378,1587,3],[2380,1587,2],[2377,1579,2],[2383,1585,3],[2391,1586,2],[2390,1577,2],[2387,1586,2],[2394,1596,2],[2398,1600,2],[2402,1595,3],[2405,1590,2],[2404,1586,3],[2406,1577,3],[2402,1588,2],[2411,1596,2],[2414,1607,3],[2414,1580,3],[2394,1573,2],[2393,1562,2],[2394,1558,3],[2392,1562,3],[2396,1566,2],[2388,1561,3],[2384,1565,2],[2385,1552,2],[2382,1552,2],[2380,1552,3],[2375,1559,3],[2374,1566,2],[2376,1566,2],[2400,1555,3],[2400,1551,3],[2403,1556,2],[2414,1571,3],[2412,1567,2],[2414,1558,3],[2324,1578,1],[2325,1550,1],[2332,1564,2],[2333,1561,2],[2327,1562,2],[2339,1575,2],[2340,1583,2],[2343,1563,2],[2345,1577,2],[2347,1567,2],[2347,1556,2],[2344,1558,2],[2340,1561,2],[2354,1569,2],[2357,1572,1],[2356,1562,2],[2360,1569,2],[2362,1573,3],[2358,1557,2],[2360,1551,2],[2363,1556,2],[2366,1568,1],[2369,1567,2],[2369,1559,2],[2368,1550,2],[2369,1548,3],[2329,1549,2],[2328,1545,2],[2334,1547,2],[2331,1538,2],[2336,1527,2],[2340,1537,2],[2342,1545,2],[2344,1536,2],[2347,1537,2],[2346,1540,2],[2350,1541,2],[2352,1542,2],[2356,1542,2],[2358,1542,3],[2360,1537,2],[2363,1532,3],[2364,1526,2],[2369,1529,3],[2371,1532,2],[2372,1537,2],[2376,1533,3],[2378,1522,3],[2380,1518,3],[2380,1525,3],[2381,1512,3],[2383,1526,3],[2385,1531,3],[2386,1519,3],[2388,1524,3],[2388,1512,3],[2391,1515,3],[2393,1524,3],[2394,1510,3],[2396,1502,3],[2397,1519,3],[2399,1536,3],[2401,1537,3],[2402,1508,3],[2405,1515,3],[2407,1547,3],[2407,1535,3],[2409,1541,3],[2412,1542,3],[2413,1521,3],[2411,1505,3],[2414,1504,3],[2324,1508,2],[2327,1508,2],[2329,1496,2],[2330,1505,2],[2333,1511,2],[2330,1516,2],[2334,1502,2],[2337,1510,2],[2339,1502,2],[2341,1510,2],[2344,1510,2],[2346,1504,2],[2349,1508,2],[2350,1516,2],[2353,1508,2],[2355,1513,2],[2357,1502,2],[2359,1498,3],[2361,1506,2],[2361,1496,3],[2364,1508,3],[2366,1500,3],[2369,1513,3],[2371,1508,3],[2373,1497,3],[2375,1512,3],[2376,1502,3],[2379,1502,3],[2378,1508,3],
[2326,1489,2],[2325,1478,2],[2329,1486,2],[2330,1471,2],[2332,1482,2],[2324,1466,2],[2327,1474,2],[2335,1488,2],[2337,1469,2],[2339,1479,2],[2341,1465,2],[2344,1484,2],[2346,1473,2],[2348,1479,2],[2350,1488,2],[2353,1466,2],[2355,1477,2],[2357,1461,2],[2359,1483,3],[2361,1470,3],[2363,1476,3],[2366,1460,3],[2368,1480,3],[2370,1466,3],[2372,1486,3],[2375,1458,3],[2377,1472,3],[2379,1464,3],[2381,1484,3],[2383,1469,3],[2385,1478,3],[2387,1462,3],[2390,1483,3],[2391,1473,3],[2394,1458,4],[2396,1480,3],[2398,1466,3],[2399,1450,4],[2401,1486,3],[2403,1468,3],[2405,1477,3],[2407,1461,3],[2409,1474,3],[2411,1492,3],[2413,1481,3],
[2326,1453,2],[2325,1438,2],[2329,1446,2],[2332,1449,2],[2334,1440,2],[2336,1455,2],[2338,1443,2],[2341,1448,2],[2343,1435,2],[2346,1446,2],[2348,1440,2],[2351,1450,2],[2354,1432,2],[2355,1443,2],[2357,1447,2],[2360,1439,3],[2362,1431,3],[2364,1449,3],[2366,1436,3],[2369,1445,3],[2371,1430,3],[2373,1443,3],[2375,1425,3],[2377,1440,3],[2380,1447,3],[2382,1430,3],[2384,1442,3],[2386,1433,3],[2388,1446,3],[2391,1437,3],[2393,1442,2],[2396,1436,2],[2400,1432,3],[2402,1444,3],[2404,1438,3],[2407,1445,3],[2409,1429,3],[2412,1440,4],[2414,1434,3],
[2324,1425,2],[2328,1419,2],[2330,1430,2],[2329,1413,2],[2332,1422,2],[2335,1426,2],[2336,1412,2],[2338,1421,2],[2340,1408,2],[2343,1418,2],[2346,1425,2],[2348,1406,3],[2349,1420,2],[2352,1414,2],[2354,1423,2],[2357,1409,2],[2359,1426,2],[2361,1416,2],[2364,1410,2],[2367,1424,3],[2369,1413,3],[2372,1420,3],[2375,1407,3],[2379,1422,3],[2382,1410,3],[2384,1425,3],[2386,1417,3],[2389,1422,3],[2396,1428,2],[2399,1416,2],[2401,1409,2],[2404,1423,3],[2406,1414,3],[2408,1408,3],[2410,1421,3],[2412,1411,3],
[2325,1402,2],[2324,1390,2],[2329,1396,2],[2331,1405,2],[2334,1393,2],[2336,1398,2],[2338,1403,2],[2341,1389,2],[2343,1399,2],[2346,1386,2],[2347,1395,2],[2350,1391,2],[2353,1397,3],[2355,1402,2],[2357,1393,2],[2360,1399,2],[2360,1385,2],[2363,1394,2],[2365,1389,2],[2368,1398,3],[2370,1382,3],[2372,1392,3],[2375,1402,3],[2376,1390,3],[2379,1385,3],[2381,1397,3],[2382,1404,3],[2384,1386,3],[2387,1399,3],[2390,1390,3],[2393,1388,4],[2395,1405,3],[2396,1394,2],[2399,1386,2],[2402,1382,4],[2404,1395,2],[2407,1392,3],[2410,1398,2],[2413,1387,4],[2407,1402,4],[2407,1410,3],
[2358,1452,3],[2365,1455,3],[2372,1450,3],[2378,1456,3],[2385,1452,3],[2392,1455,3],[2398,1448,3],[2405,1452,3],[2368,1430,3],[2380,1436,3],[2393,1426,3],[2398,1420,3],[2390,1412,3],[2378,1404,3],[2366,1418,2],[2352,1428,2],[2362,1442,3],[2375,1470,3],[2388,1470,3],[2402,1460,3],[2410,1465,3],[2395,1470,3],[2356,1465,2],[2344,1460,2],
[2324,1381,2],[2329,1377,2],[2326,1371,2],[2329,1371,2],[2328,1364,2],[2324,1365,2],[2332,1370,2],[2334,1365,1],[2336,1381,2],[2339,1381,2],[2339,1365,2],[2340,1353,2],[2329,1355,2],[2332,1350,2],[2330,1349,1],[2343,1374,2],[2345,1369,2],[2348,1374,2],[2349,1353,2],[2350,1349,2],[2350,1366,2],[2352,1366,2],[2354,1366,2],[2357,1374,2],[2359,1361,2],[2361,1368,2],[2360,1357,2],[2364,1381,2],[2365,1355,2],[2364,1350,2],[2368,1355,2],[2373,1352,2],[2376,1350,2],[2370,1370,3],[2373,1381,2],[2377,1381,2],[2379,1376,2],[2381,1368,3],[2383,1371,2],[2385,1374,2],[2387,1377,2],[2391,1368,2],[2376,1345,2],[2381,1345,3],[2385,1347,3],[2388,1358,3],[2390,1347,2],[2389,1336,2],[2382,1330,3],[2385,1328,2],[2374,1328,2],[2375,1323,2],[2372,1309,3],[2380,1303,3],[2385,1304,2],[2388,1308,2],[2394,1355,2],[2397,1356,2],[2397,1343,3],[2401,1364,3],[2400,1364,2],[2405,1359,3],[2410,1357,2],[2405,1325,3],[2410,1325,2],[2407,1307,2],[2412,1340,1],[2414,1304,1],[2405,1260,1],[2375,1287,2],[2379,1285,2],[2382,1286,1],[2385,1284,2],[2387,1285,2],[2392,1282,2],[2372,1272,2],[2380,1258,2],[2357,1298,2],[2357,1288,1],[2362,1281,1],[2332,1307,2],[2332,1294,2],[2332,1280,2],[2330,1303,2],[2327,1300,2],[2324,1297,1],[2329,1321,1],[2338,1279,1],[2342,1283,1],[2343,1275,2],[2346,1308,1],[2354,1327,2],[2353,1327,2],[2357,1325,2],[2346,1326,2],[2343,1331,2],[2340,1335,2],[2336,1329,2],[2325,1310,1],[2329,1329,1],[2335,1339,2],[2349,1344,1],[2354,1352,1]]

const eEast = [[2449,1665,3],[2449,1661,3],[2461,1662,4],[2470,1664,2],[2419,1668,2],[2419,1659,2],[2416,1667,1],[2424,1662,1],[2430,1663,1],[2458,1640,3],[2419,1637,2],[2419,1624,2],[2424,1629,2],[2429,1634,2],[2428,1624,1],[2437,1635,3],[2439,1627,4],[2435,1616,1],[2444,1623,1],[2449,1621,1],[2452,1622,1],[2458,1617,5],[2456,1604,5],[2462,1604,5],[2467,1598,5],[2472,1590,4],[2471,1623,1],[2474,1610,1],[2453,1595,4],[2452,1588,4],[2467,1612,2],[2449,1607,3],[2446,1605,3],[2444,1608,3],[2445,1596,3],[2437,1605,2],[2428,1602,2],[2425,1586,3],[2424,1594,2],[2419,1604,2],[2418,1593,2],[2422,1596,2],[2414.5,1611,2],[2432,1588,3],[2430,1581,3],[2435,1572,3],[2438,1588,2],[2442,1585,2],[2443,1563,4],[2446,1572,2],[2442,1558,2],[2460,1582,3],[2460,1577,3],[2463,1564,5],[2467,1572,2],[2450,1552,5],[2454,1550,4],[2459,1542,5],[2456,1537,5],[2446,1527,5],[2450,1526,5],[2453,1532,4],[2448,1534,4],[2443,1527,4],[2467,1547,4],[2467,1533,2],[2461,1520,2],[2465,1520,3],[2450,1501,2],[2458,1500,4],[2457,1492,3],[2460,1491,1],[2466,1488,4],[2469,1491,4],[2470,1475,4],[2464,1476,3],[2458,1467,4],[2455,1470,3],[2461,1472,3],[2449,1480,5],[2447,1473,5],[2443,1470,4],[2446,1491,3],[2449,1488,2],[2452,1488,3],[2453,1476,2],[2453,1462,1],[2437,1457,4],[2440,1470,3],[2437,1483,4],[2440,1484,3],[2435,1484,3],[2429,1483,3],[2431,1476,3],[2432,1492,3],[2434,1487,3],[2431,1496,2],[2426,1489,2],[2424,1483,3],[2422,1476,3],[2422,1470,2],[2420,1476,3],[2422,1504,3],[2424,1510,3],[2426,1513,3],[2419,1515,2],[2416,1508,2],[2415,1496,2],[2418,1492,2],[2419,1475,3],[2419,1467,2],[2414,1476,2],[2415,1457,2],[2419,1448,2],[2416,1452,2],[2421,1465,2],[2422,1451,1],[2425,1462,2],[2427,1465,3],[2430,1457,3],[2430,1443,3],[2427,1436,3],[2429,1430,2],[2421,1428,2],[2422,1422,3],[2423,1418,2],[2424,1435,2],[2419,1443,2],[2418,1428,1],[2433,1422,4],[2430,1418,1],[2437,1432,2],[2434,1449,3],[2431,1465,2],[2444,1451,1],[2443,1444,2],[2445,1430,2],[2447,1418,1],[2448,1407,2],[2450,1407,2],[2450,1448,1],[2453,1425,1],[2449,1440,3],[2458,1440,2],[2461,1461,2],[2467,1462,2],[2468,1455,1],[2466,1433,1],[2467,1423,1],[2470,1408,4],[2474,1448,1],[2431,1401,4],[2423,1404,2],[2419,1397,2],[2417,1396,2],[2414,1385,3],[2428,1388,2],[2423,1380,2],[2414,1364,1],[2419,1341,2],[2421,1323,1],[2421,1315,2],[2419,1310,2],[2415,1304,2],[2426,1312,2],[2427,1294,2],[2433,1335,3],[2442,1335,3],[2439,1304,1],[2441,1286,3],[2436,1273,3],[2434,1260,2],[2434,1253,3],[2416,1254,2],[2451,1281,2],[2457,1395,3],[2461,1393,1],[2452,1384,3],[2453,1380,2],[2455,1376,2],[2455,1371,2],[2467,1390,2],[2466,1364,2],[2470,1357,3],[2447,1361,1],[2451,1348,1],[2461,1269,1],[2466,1271,1],[2474,1273,1],[2467,1451,1],[2468,1432,1]]

const eGray = [[2476.7,1642,5],[2482.4,1643,4],[2475.7,1626,4],[2478.8,1621,5],[2480.1,1588,4],[2482,1573,5],[2479.6,1550,4],[2478.8,1540,5],[2475.1,1523,4],[2478.8,1517,4],[2477.2,1500,4],[2483,1498,4],[2477.3,1479,3],[2477.2,1464,5],[2480.2,1448,4],[2479.4,1410,5],[2478,1405,3],[2490.7,1320,5],[2490.6,1258,4]]

// box drawn in the sin I panel
const boxA = [2.436, 2.476]
const boxSinI = [0.0505, 0.063]

// ---- cumulative size distributions: [D (km), N(>D)] ----
const redCurve = [[1.0,2140],[1.15,2133],[1.362,2105],[1.6,1985],[1.833,1795],[2.102,1570],[2.411,1310],[2.703,1095],[3.03,887],[3.396,697],[3.81,565],[4.17,444],[4.57,328],[5.01,243],[5.61,175],[6.29,118],[7.05,82],[7.72,59],[8.31,41.7],[8.47,36.4],[8.76,34.3],[9.07,24.3],[9.6,20.3],[10.2,18],[10.27,15],[11.0,12.6],[11.5,9.03],[11.92,8.0],[12.92,7.0],[13.2,4.95],[14.15,4.02],[14.38,2.98],[14.98,1.96],[16.16,1.0]]
const blueCurve = [[1.0,2165],[1.15,2155],[1.362,2125],[1.6,2005],[1.833,1815],[2.102,1590],[2.411,1330],[2.703,1110],[3.03,900],[3.396,710],[3.81,575],[4.17,455],[4.57,340],[5.24,222],[5.61,180],[6.02,159],[6.29,129],[6.74,108],[7.22,79.8],[8.09,64.7],[8.66,50.8],[9.07,42.4],[9.17,39.9],[9.93,36.4],[10.27,31.8],[10.3,30.9],[11.13,28.2],[11.5,25],[11.92,20.9],[12.77,20.3],[13.2,16.4],[13.99,15.3],[14.47,11.5],[14.98,9.9],[16.11,9.03],[16.6,7.89],[17.26,7.0],[17.58,5.93],[17.78,4.02],[18.31,2.98],[18.74,1.96],[19.71,1.0]]
const mbCurve = [[1.646,3000],[2.2,1881],[2.894,1062],[3.985,501],[5.48,236],[7.9,92.8],[10.5,41.7],[11.21,35.6],[13.77,21.5],[17.38,13.1],[21.98,8.81]]
const fitSteep = [[2.495,2504],[15.97,4.40]]
const fitShallow = [[2.495,2028],[21.0,3.84]]
const arrows = [{ d: 2.703, from: 246.6, to: 723 }, { d: 3.81, from: 123.5, to: 358 }]
const notes = [
  { name: 'MB', pos: [10.96, 58.2] },
  { name: '2', pos: [2.703, 182.6] },
  { name: '1', pos: [3.81, 91.4] }
]
const acNote = [1.394, 2.17]

const FONT = 'Roboto, "Noto Sans", sans-serif'
const binPx = [0, 2.8, 5.6, 8.2, 12, 17, 21]

function axisPair(dim, grid, opt) {
  const sides = dim === 'x' ? ['bottom', 'top'] : ['left', 'right']
  return sides.map((side, i) => ({
    type: opt.type || 'value',
    gridIndex: grid,
    position: side,
    min: opt.min,
    max: opt.max,
    logBase: 10,
    name: i === 0 && opt.name ? opt.name : '',
    nameLocation: 'middle',
    nameGap: opt.nameGap || 0,
    nameRotate: dim === 'y' ? 90 : 0,
    nameTextStyle: { fontFamily: FONT, fontSize: 32, color: '#000' },
    axisLine: { show: !!opt.line, onZero: false, lineStyle: { color: '#000', width: 3 } },
    axisTick: { show: true, inside: true, length: opt.tickLen, customValues: opt.ticks, lineStyle: { color: '#000', width: 2.5 } },
    axisLabel: {
      show: i === 0 && !!opt.labels,
      customValues: opt.labels,
      rotate: dim === 'y' ? 90 : 0,
      margin: opt.margin || 14,
      fontFamily: FONT,
      fontSize: 30,
      color: '#000',
      formatter: opt.fmt
    },
    splitLine: { show: false },
    minorTick: { show: false }
  }))
}

function dots(list, yUnit) {
  return list.map(p => [p[0] / 1000, p[1] / yUnit, p[2]])
}

const panels = [
  { left: 157, top: 36, width: 971, height: 534 },
  { left: 157, top: 570, width: 971, height: 535 },
  { left: 1250, top: 37, width: 1042, height: 1067 }
]
const grids = []
panels.forEach(p => { grids.push(p); grids.push(p) })

const fmtA = v => Number(v).toFixed(1)
const fmtY = v => Number(v).toFixed(2)
const fmtInt = v => String(Math.round(v))

const xAxes = [].concat(
  axisPair('x', 0, { min: 2.15, max: 2.5, ticks: aMajor, tickLen: 15, line: true }),
  axisPair('x', 1, { min: 2.15, max: 2.5, ticks: aMinor, tickLen: 8 }),
  axisPair('x', 2, { min: 2.15, max: 2.5, ticks: aMajor, labels: aMajor, tickLen: 15, line: true, name: 'a (au)', nameGap: 52, fmt: fmtA }),
  axisPair('x', 3, { min: 2.15, max: 2.5, ticks: aMinor, tickLen: 8 }),
  axisPair('x', 4, { type: 'log', min: 1, max: 25, ticks: dMajor, labels: dLabels, tickLen: 16, line: true, name: 'D (km)', nameGap: 56, fmt: fmtInt }),
  axisPair('x', 5, { type: 'log', min: 1, max: 25, ticks: dMinor, tickLen: 10 })
)
const yAxes = [].concat(
  axisPair('y', 0, { min: 0.035, max: 0.065, ticks: sinMajor, labels: sinMajor, tickLen: 15, line: true, name: 'sin I', nameGap: 72, margin: 16, fmt: fmtY }),
  axisPair('y', 1, { min: 0.035, max: 0.065, ticks: sinMinor, tickLen: 8 }),
  axisPair('y', 2, { min: 0.12, max: 0.17, ticks: eMajor, labels: eLabels, tickLen: 15, line: true, name: 'e', nameGap: 72, margin: 16, fmt: fmtY }),
  axisPair('y', 3, { min: 0.12, max: 0.17, ticks: eMinor, tickLen: 8 }),
  axisPair('y', 4, { type: 'log', min: 0.9, max: 3000, ticks: nMajor, labels: nMajor, tickLen: 16, line: true, margin: 15, fmt: fmtInt }),
  axisPair('y', 5, { type: 'log', min: 0.9, max: 3000, ticks: nMinor, tickLen: 9 })
)

const sizeOf = v => binPx[v[2]]

function scatter(axis, data, color, extra) {
  return Object.assign({
    type: 'scatter', xAxisIndex: axis, yAxisIndex: axis, data,
    symbol: 'circle', symbolSize: sizeOf, silent: true,
    itemStyle: { color, opacity: 1 }
  }, extra || {})
}

function curve(data, color, width, extra) {
  return Object.assign({
    type: 'line', xAxisIndex: 8, yAxisIndex: 8, data,
    showSymbol: false, symbol: 'none', silent: true,
    lineStyle: { color, width }
  }, extra || {})
}

const option = {
  animation: false,
  backgroundColor: '#fff',
  grid: grids,
  xAxis: xAxes,
  yAxis: yAxes,
  series: [
    scatter(0, dots([].concat(sinWest, sinMid, sinCore, sinEast), 10000), '#000', {
      markArea: {
        silent: true,
        itemStyle: { color: 'rgba(0,0,0,0)', borderColor: '#000', borderWidth: 2 },
        data: [[{ coord: [boxA[0], boxSinI[1]] }, { coord: [boxA[1], boxSinI[0]] }]]
      }
    }),
    scatter(0, dots(sinGray, 10000), '#b3b3b3'),
    scatter(4, dots([].concat(eWest, eMid, eCore, eEast), 10000), '#000'),
    scatter(4, dots(eGray, 10000), '#b3b3b3'),
    curve(fitSteep, '#b0b0b0', 2.5),
    curve(fitShallow, '#b0b0b0', 2.5),
    curve(mbCurve, '#5f5f5f', 4.5, {
      markLine: {
        silent: true,
        symbol: ['none', 'arrow'],
        symbolSize: [18, 26],
        label: { show: false },
        lineStyle: { color: '#6e6e6e', width: 3, type: 'solid' },
        data: arrows.map(a => [{ coord: [a.d, a.from] }, { coord: [a.d, a.to] }])
      }
    }),
    curve(blueCurve, '#0000ff', 4.5),
    curve(redCurve, '#ff0000', 5),
    {
      type: 'scatter', xAxisIndex: 8, yAxisIndex: 8, silent: true,
      symbolSize: 1, itemStyle: { color: 'rgba(0,0,0,0)' },
      data: notes.map(n => ({ name: n.name, value: n.pos })),
      label: {
        show: true, position: 'inside', formatter: '{b}', fontFamily: FONT,
        fontSize: 31, color: '#6e6e6e'
      }
    },
    {
      type: 'scatter', xAxisIndex: 8, yAxisIndex: 8, silent: true,
      symbolSize: 1, itemStyle: { color: 'rgba(0,0,0,0)' },
      data: [{ value: acNote }],
      label: {
        show: true, position: 'right', distance: 0,
        formatter: '{a|a}{c|c}{a|  =  2.475  au}',
        rich: {
          a: { fontFamily: FONT, fontSize: 33, color: '#000', verticalAlign: 'top', lineHeight: 38 },
          c: { fontFamily: FONT, fontSize: 23, color: '#000', verticalAlign: 'top', lineHeight: 23, padding: [22, 3, 0, 1] }
        }
      }
    }
  ]
}

// MB label is a lighter grey and smaller than the arrow numbers
option.series[9].data[0].label = { fontSize: 27, color: '#8c8c8c' }

const chart = echarts.init(document.getElementById('chart'), null, { renderer: 'canvas' })
chart.setOption(option)
</script>
</body>
</html>
